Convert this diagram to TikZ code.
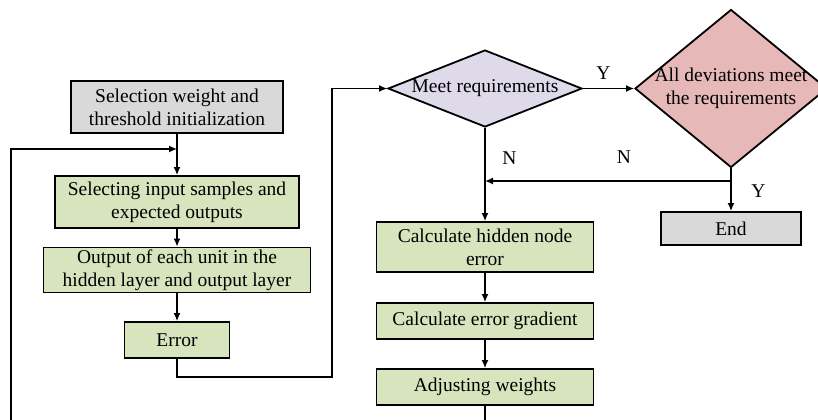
\documentclass[tikz,border=0pt]{standalone}
\usepackage{fontspec}
\setmainfont{Liberation Serif}
\definecolor{boxgreen}{RGB}{215,228,189}
\definecolor{boxgrey}{RGB}{217,217,217}
\definecolor{diapurple}{RGB}{222,218,234}
\definecolor{diapink}{RGB}{230,185,184}
\usetikzlibrary{shapes,arrows,arrows.meta,positioning}

\tikzset{
  box/.style={rectangle,draw,line width=0.9pt,fill=boxgreen,align=center,inner sep=1pt},
  greybox/.style={box,fill=boxgrey},
  dia/.style={diamond,draw,line width=0.9pt,inner sep=0pt},
  every node/.style={font=\fontsize{9.75}{11.5}\selectfont}
}

\begin{document}
\begin{tikzpicture}[x=0.5pt,y=0.5pt,>={Latex[length=4pt,width=3.5pt]},line width=0.75pt]
		\useasboundingbox (0,0) rectangle (818,-419);
		\clip (0,0) rectangle (818,-419);

		% left column
		\node[greybox,minimum width=106pt,minimum height=26pt] (init) at (177,-107) {Selection weight and\\threshold initialization};
		\node[box,below of=init,node distance=47.5pt,minimum width=122pt,minimum height=26pt] (samp) {Selecting input samples and\\expected outputs};
		\node[box,below of=samp,node distance=34pt,minimum width=133.5pt,minimum height=22.5pt] (outp) {Output of each unit in the\\hidden layer and output layer};
		\node[box,below of=outp,node distance=35pt,minimum width=52.5pt,minimum height=18pt] (err) {Error};

		% right part
		\node[dia,fill=diapurple,minimum width=97pt,minimum height=38.5pt,label=center:Meet requirements] (meet) at (485,-88.5) {};
		\node[dia,fill=diapink,right of=meet,node distance=123pt,minimum width=96pt,minimum height=79pt,label={[align=center]center:All deviations meet\\the requirements}] (alldev) {};
		\node[greybox,below of=alldev,node distance=70pt,minimum width=70pt,minimum height=16.5pt] (end) {End};
		\node[box,below of=meet,node distance=79.25pt,minimum width=108.5pt,minimum height=25pt] (hid) {Calculate hidden node\\error};
		\node[box,below of=hid,node distance=37pt,minimum width=108.5pt,minimum height=18pt] (grad) {Calculate error gradient};
		\node[box,below of=grad,node distance=33pt,minimum width=108.5pt,minimum height=18pt] (adj) {Adjusting weights};

		\coordinate (loopin) at (177,-149);
		\coordinate (loopleft) at (11,-470);
		\coordinate (errdn) at (332,-377);
		\coordinate (ysplit) at (731,-181);
		\coordinate (nmerge) at (485,-181);

		\draw[->] (init) -- (samp);
		\draw[->] (samp) -- (outp);
		\draw[->] (outp) -- (err);
		\draw[->] (err.south) |- (errdn) |- (meet.west);
		\draw[->] (meet.east) -- node[pos=0.4,above=1pt] {Y} (alldev.west);
		\draw[->] (meet.south) -- node[pos=0.32,right=5pt] {N} (hid.north);
		\draw[->] (alldev.south) -- node[pos=0.53,right=6.5pt] {Y} (end.north);
		\draw[->] (ysplit) -- node[pos=0.435,above=5pt] {N} (nmerge);
		\draw[->] (hid) -- (grad);
		\draw[->] (grad) -- (adj);
		\draw[->] (adj.south) |- (loopleft) |- (loopin);
	\end{tikzpicture}
\end{document}
